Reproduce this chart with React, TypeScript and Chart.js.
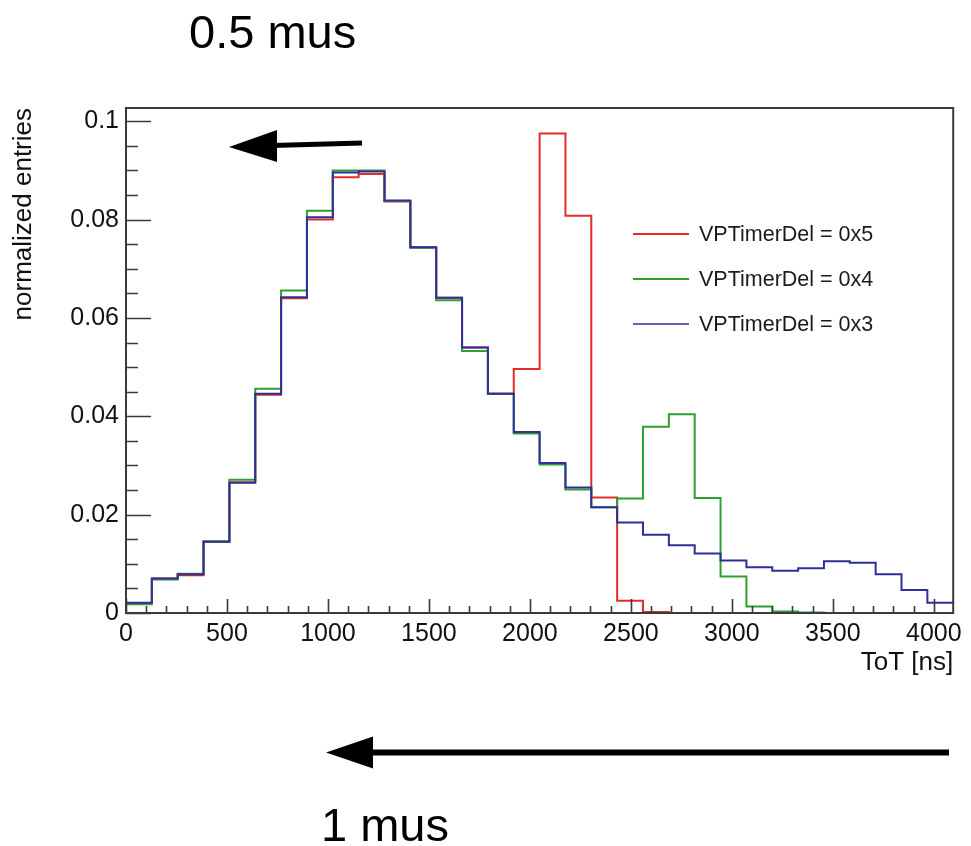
import React, { useEffect, useRef } from "react";
import { Chart, registerables } from "chart.js";

Chart.register(...registerables);

// ---- data ----
const binLowEdges = [
  0, 128, 256, 384, 512, 640, 768, 896, 1024, 1152, 1280, 1408, 1536, 1664, 1792, 1920,
  2048, 2176, 2304, 2432, 2560, 2688, 2816, 2944, 3072, 3200, 3328, 3456, 3584, 3712, 3840, 3968,
];
const histUpperEdge = 4096;

const seriesLabels = ["VPTimerDel = 0x5", "VPTimerDel = 0x4", "VPTimerDel = 0x3"];

const values0x5 = [
  0.002, 0.007, 0.0077, 0.0145, 0.0266, 0.0444, 0.064, 0.08, 0.0886, 0.0893, 0.0837, 0.0744,
  0.0641, 0.054, 0.0446, 0.0496, 0.0975, 0.0808, 0.0235, 0.0025, 0.0002, 0, 0, 0, 0, 0, 0, 0,
  0, 0, 0, 0,
];
const values0x4 = [
  0.0018, 0.0068, 0.008, 0.0146, 0.0271, 0.0456, 0.0656, 0.0818, 0.09, 0.09, 0.0838, 0.0743,
  0.0636, 0.0533, 0.0446, 0.0365, 0.0302, 0.0251, 0.0215, 0.0233, 0.0379, 0.0404, 0.0234,
  0.0074, 0.0013, 0.0003, 0.0001, 0, 0, 0, 0, 0,
];
const values0x3 = [
  0.0021, 0.007, 0.0079, 0.0145, 0.0265, 0.0446, 0.0642, 0.0805, 0.0896, 0.0898, 0.0839,
  0.0744, 0.0641, 0.054, 0.0446, 0.0368, 0.0305, 0.0255, 0.0215, 0.0184, 0.0159, 0.0138,
  0.0121, 0.0107, 0.0093, 0.0086, 0.0091, 0.0105, 0.0102, 0.0079, 0.0047, 0.0021,
];

const xTickValues = [0, 500, 1000, 1500, 2000, 2500, 3000, 3500, 4000];
const yTickValues = [0, 0.02, 0.04, 0.06, 0.08, 0.1];
const xMinorStep = 100;
const yMinorStep = 0.005;
const xMax = 4096;
const yMax = 0.1027;

const xTitle = "ToT [ns]";
const yTitle = "normalized entries";
const topNote = "0.5 mus";
const bottomNote = "1 mus";

// ---- styles ----
const FONT = "'Liberation Sans', Arial, Helvetica, sans-serif";
const COLORS = ["#e32b2b", "#2f9f2f", "#2f2f9c"];
const FRAME = "#3a3a3a";

function toSteps(values: number[]) {
  const pts = values.map((v, i) => ({ x: binLowEdges[i], y: v }));
  pts.push({ x: histUpperEdge, y: values[values.length - 1] });
  return pts;
}

const decorPlugin = {
  id: "decor",
  beforeDraw(chart: any) {
    const ctx = chart.ctx;
    ctx.save();
    ctx.fillStyle = "#ffffff";
    ctx.fillRect(0, 0, chart.width, chart.height);
    ctx.restore();
  },
  afterDatasetsDraw(chart: any) {
    const ctx = chart.ctx;
    const { left, right, top, bottom } = chart.chartArea;
    const xs = chart.scales.x;
    const ys = chart.scales.y;
    ctx.save();

    // frame
    ctx.strokeStyle = FRAME;
    ctx.lineWidth = 2;
    ctx.strokeRect(left, top, right - left, bottom - top);

    // inward ticks
    ctx.lineWidth = 1.6;
    ctx.beginPath();
    for (let v = 0; v <= yMax + 1e-9; v += yMinorStep) {
      const major = yTickValues.some((t) => Math.abs(t - v) < 1e-9);
      const py = Math.round(ys.getPixelForValue(v)) + 0.5;
      ctx.moveTo(left, py);
      ctx.lineTo(left + (major ? 25 : 12), py);
    }
    for (let v = 0; v <= xMax; v += xMinorStep) {
      const major = xTickValues.includes(v);
      const px = Math.round(xs.getPixelForValue(v)) + 0.5;
      ctx.moveTo(px, bottom);
      ctx.lineTo(px, bottom - (major ? 14 : 7));
    }
    ctx.stroke();

    // legend
    const legendX = 633;
    const legendY = [234, 279, 324];
    chart.data.datasets.forEach((ds: any, i: number) => {
      ctx.strokeStyle = ds.borderColor;
      ctx.lineWidth = i === 2 ? 1.3 : 2;
      ctx.beginPath();
      ctx.moveTo(legendX, legendY[i]);
      ctx.lineTo(legendX + 56, legendY[i]);
      ctx.stroke();
      ctx.fillStyle = "#1a1a1a";
      ctx.font = `21.5px ${FONT}`;
      ctx.textBaseline = "middle";
      ctx.textAlign = "left";
      ctx.fillText(ds.label, legendX + 66, legendY[i] + 1);
    });

    // arrows
    ctx.fillStyle = "#000";
    ctx.strokeStyle = "#000";
    ctx.lineCap = "butt";
    // top arrow
    ctx.lineWidth = 5;
    ctx.beginPath();
    ctx.moveTo(362, 143);
    ctx.lineTo(272, 145.5);
    ctx.stroke();
    ctx.beginPath();
    ctx.moveTo(229, 147);
    ctx.lineTo(277, 130);
    ctx.lineTo(277, 162);
    ctx.closePath();
    ctx.fill();
    // bottom arrow
    ctx.lineWidth = 6;
    ctx.beginPath();
    ctx.moveTo(949, 752.5);
    ctx.lineTo(368, 752.5);
    ctx.stroke();
    ctx.beginPath();
    ctx.moveTo(326, 752.5);
    ctx.lineTo(373, 736.5);
    ctx.lineTo(373, 768.5);
    ctx.closePath();
    ctx.fill();

    // notes
    ctx.font = `47px ${FONT}`;
    ctx.textBaseline = "alphabetic";
    ctx.textAlign = "left";
    ctx.fillText(topNote, 189, 48);
    ctx.fillText(bottomNote, 321, 841);

    ctx.restore();
  },
};

export default function App() {
  const canvasRef = useRef<HTMLCanvasElement | null>(null);

  useEffect(() => {
    document.body.style.margin = "0";
    const canvas = canvasRef.current;
    if (!canvas) return;
    const series = [values0x5, values0x4, values0x3];
    const chart = new Chart(canvas, {
      type: "line",
      data: {
        datasets: series.map((vals, i) => ({
          label: seriesLabels[i],
          data: toSteps(vals),
          borderColor: COLORS[i],
          backgroundColor: COLORS[i],
          borderWidth: 2,
          pointRadius: 0,
          stepped: "before" as const,
          fill: false,
          order: 3 - i,
        })),
      },
      options: {
        animation: false,
        responsive: false,
        devicePixelRatio: 1,
        layout: { padding: { left: 0, top: 108, right: 16, bottom: 170 } },
        plugins: { legend: { display: false }, tooltip: { enabled: false } },
        scales: {
          x: {
            type: "linear",
            min: 0,
            max: xMax,
            afterBuildTicks: (s: any) => {
              s.ticks = xTickValues.map((v) => ({ value: v }));
            },
            afterFit: (s: any) => {
              s.height = 63;
            },
            grid: { display: false, drawTicks: false },
            border: { display: false },
            ticks: {
              autoSkip: false,
              maxRotation: 0,
              padding: 9,
              color: "#111",
              font: { family: FONT, size: 25, lineHeight: 1 },
              callback: (v: any) => String(v),
            },
            title: {
              display: true,
              text: xTitle,
              align: "end",
              color: "#111",
              font: { family: FONT, size: 26, lineHeight: 1 },
              padding: { top: 0, bottom: 0 },
            },
          },
          y: {
            type: "linear",
            min: 0,
            max: yMax,
            afterBuildTicks: (s: any) => {
              s.ticks = yTickValues.map((v) => ({ value: v }));
            },
            afterFit: (s: any) => {
              s.width = 126;
            },
            grid: { display: false, drawTicks: false },
            border: { display: false },
            ticks: {
              padding: 7,
              color: "#111",
              font: { family: FONT, size: 25, lineHeight: 1 },
              callback: (v: any) => (v === 0 ? "0" : String(parseFloat(Number(v).toFixed(3)))),
            },
            title: {
              display: true,
              text: yTitle,
              align: "end",
              color: "#111",
              font: { family: FONT, size: 26, lineHeight: 1 },
              padding: { top: 11, bottom: 0 },
            },
          },
        },
      },
      plugins: [decorPlugin],
    });
    return () => chart.destroy();
  }, []);

  return (
    <div style={{ position: "absolute", left: 0, top: 0, width: 971, height: 846 }}>
      <canvas ref={canvasRef} width={971} height={846} style={{ width: 971, height: 846 }} />
    </div>
  );
}
